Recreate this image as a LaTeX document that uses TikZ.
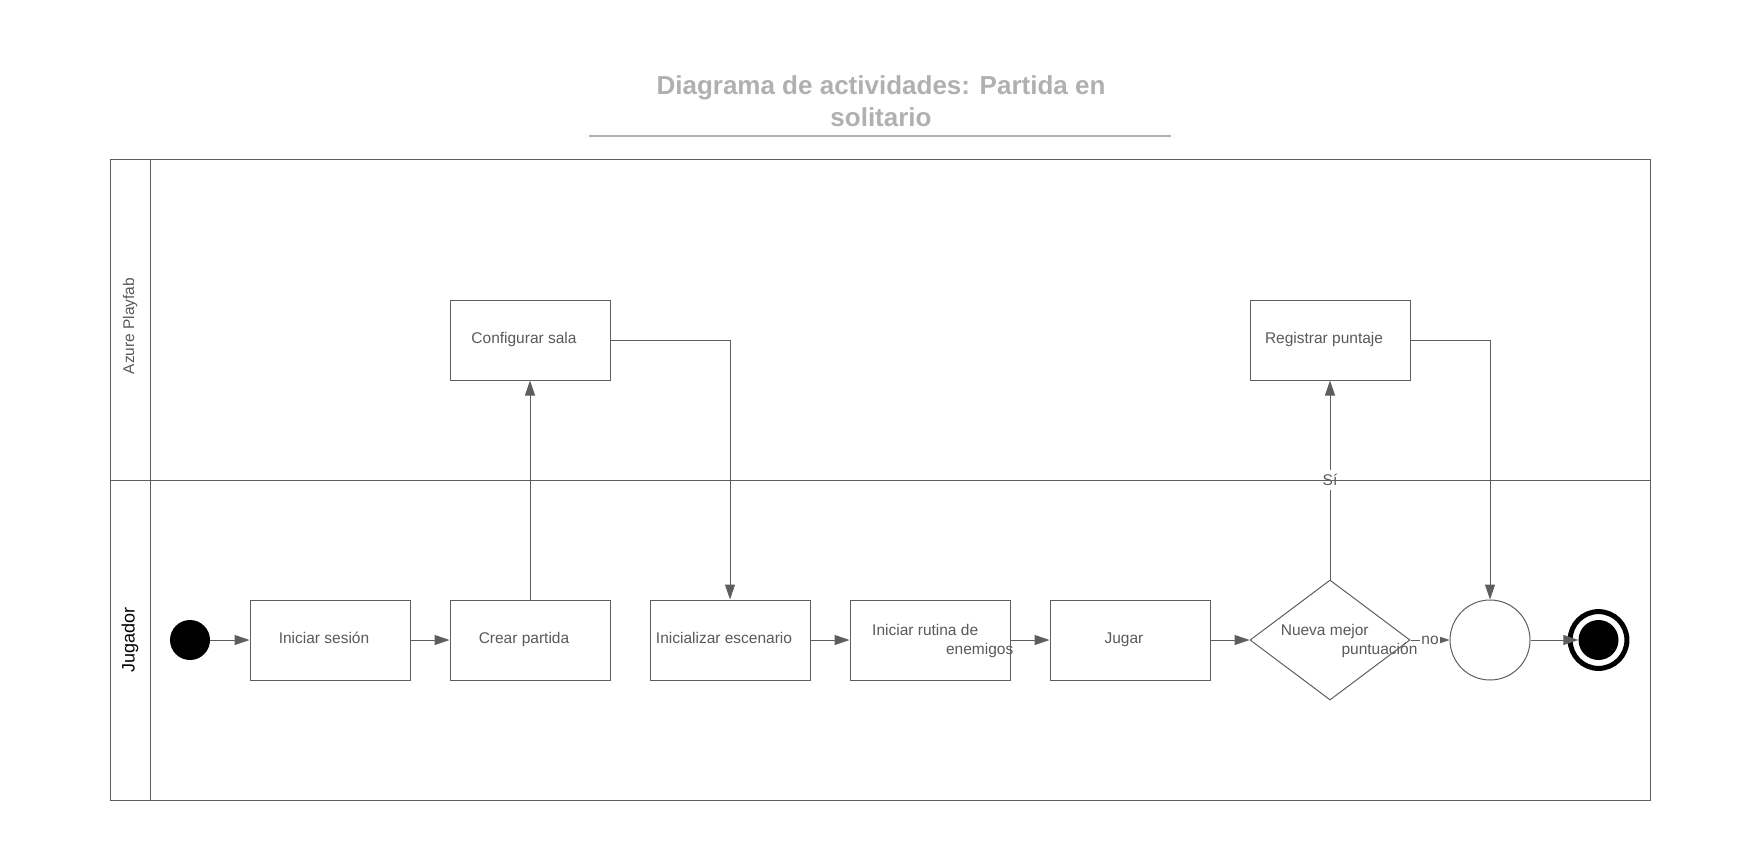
\documentclass[tikz,border=0pt]{standalone}
\usepackage{fontspec}
\setmainfont{Liberation Sans}
\usetikzlibrary{arrows.meta,shapes.geometric}
\definecolor{edgegray}{HTML}{5E5E5E}
\definecolor{txtgray}{HTML}{595959}
\definecolor{titlegray}{HTML}{B0B0B0}
\begin{document}
\begin{tikzpicture}[x=1pt,y=-1pt,
  act/.style={draw=edgegray, line width=1pt, minimum width=160pt, minimum height=80pt,
    inner sep=0pt, text=txtgray, font=\fontsize{15.5}{18}\selectfont,
    text height=12pt, text depth=6pt, execute at begin node={\hspace*{-12pt}}},
  txt/.style={text=txtgray, font=\fontsize{15.5}{18}\selectfont, inner sep=0pt},
  flow/.style={draw=edgegray, line width=1pt, -{Triangle[length=15pt,width=10pt]}},
  lane/.style={draw=edgegray, line width=1pt}
]
\useasboundingbox (0,0) rectangle (1760,845);

% title
\node[align=center, text=titlegray, font=\bfseries\fontsize{26}{32}\selectfont] (title) at (881,101)
  {Diagrama de actividades: Partida en\\solitario};
\coordinate (ulA) at (589,136);
\coordinate (ulB) at (1171,136);
\draw[titlegray, line width=1.5pt] (ulA) -- (ulB);

% nodes
\node[circle, fill=black, minimum size=40pt, inner sep=0pt] (start) at (190,640) {};
\node[act] (login) at (330,640) {Iniciar sesión};
\node[act] (crear) at (530,640) {Crear partida};
\node[act] (config) at (530,340) {Configurar sala};
\node[act] (escen) at (730,640) {Inicializar escenario};
\node[act] (rutina) at (930,640) {};
\node[txt, anchor=base west] (rutina1) at (872,635) {Iniciar rutina de};
\node[txt, anchor=base east] (rutina2) at (1013.5,654) {enemigos};
\node[act] (jugar) at (1130,640) {Jugar};
\node[draw=edgegray, line width=1pt, diamond, aspect=1.3333, minimum width=160pt,
  minimum height=120pt, inner sep=0pt] (dec) at (1330,640) {};
\node[txt, anchor=base west] (dec1) at (1280.6,635) {Nueva mejor};
\node[txt, anchor=base east] (dec2) at (1417.6,654) {puntuación};
\node[act] (reg) at (1330,340) {Registrar puntaje};
\node[circle, draw=edgegray, line width=1pt, minimum size=80pt, inner sep=0pt] (merge) at (1490,640) {};
\node[circle, draw=black, line width=5pt, fill=white, minimum size=56.8pt, inner sep=0pt] (endring) at (1598.5,640) {};
\node[circle, fill=black, minimum size=40pt, inner sep=0pt] (endfill) at (1598.5,640) {};

% connectors
\draw[flow] (start) -- (login);
\draw[flow] (login) -- (crear);
\draw[flow] (crear) -- (config);
\draw[flow] (config.east) -| (escen.north);
\draw[flow] (escen) -- (rutina);
\draw[flow] (rutina) -- (jugar);
\draw[flow] (jugar) -- (dec);
\draw[flow] (dec.north) -- node[txt, fill=white, inner sep=4pt] (si) {Sí} (reg.south);
\draw[flow] (reg.east) -| (merge.north);
\draw[flow] (dec.east) -- node[txt, fill=white, inner sep=1pt] (no) {no} (merge.west);
\draw[flow] (merge) -- (endfill);

% swimlanes
\draw[lane] (110,160) rectangle (1650,800);
\draw[lane] (150,160) -- (150,800);
\draw[lane] (110,480) -- (1650,480);
\node[rotate=90, text=txtgray, font=\fontsize{15.5}{18}\selectfont] (lanetop) at (130,326) {Azure Playfab};
\node[rotate=90, text=black, font=\fontsize{18}{21}\selectfont] (lanebot) at (130,640) {Jugador};
\end{tikzpicture}
\end{document}
